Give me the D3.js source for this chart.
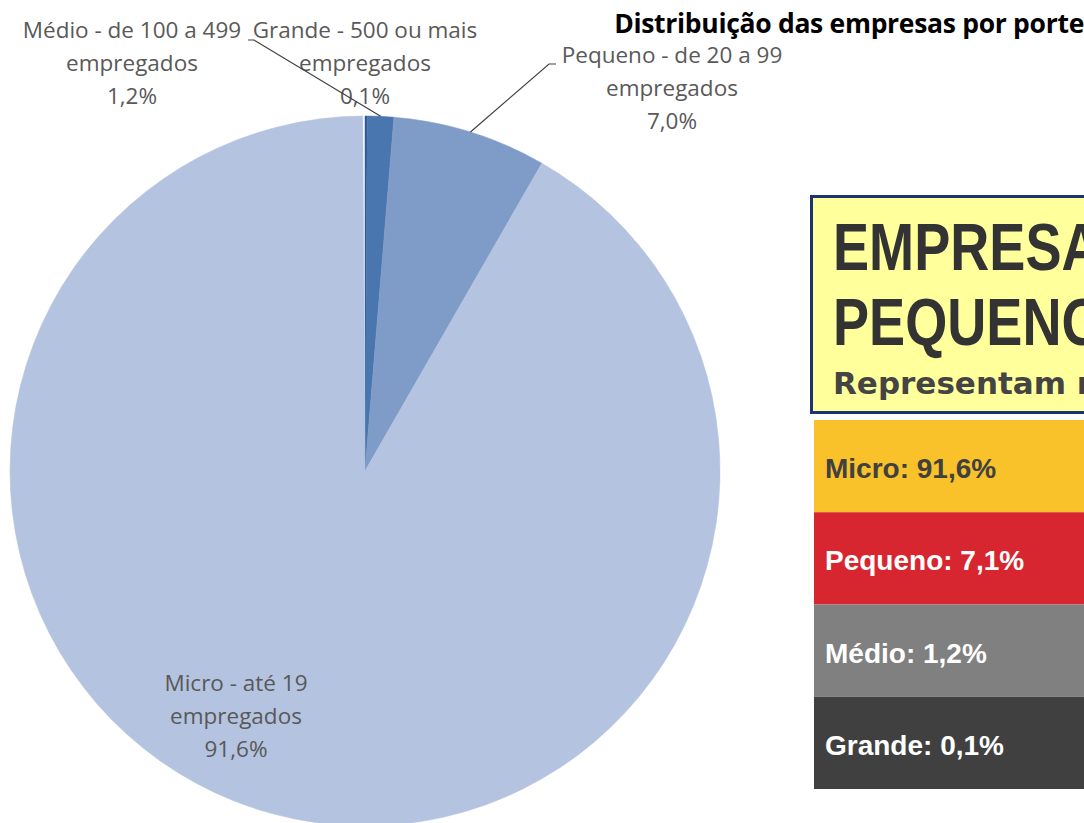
<!DOCTYPE html>
<html>
<head>
<meta charset="utf-8">
<script src="https://cdn.jsdelivr.net/npm/d3@7"></script>
<style>
  html, body { margin: 0; padding: 0; background: #ffffff; }
  svg { display: block; }
</style>
</head>
<body>
<svg id="chart" width="1084" height="823"></svg>
<script>
// ---------- data ----------
const title = "Distribuição das empresas por porte";
const sizes = ["Grande", "Médio", "Pequeno", "Micro"];
const sizeRanges = ["500 ou mais", "de 100 a 499", "de 20 a 99", "até 19"];
const shares = [0.1, 1.2, 7.0, 91.6];
const sliceColors = ["#2f5a94", "#4a76b0", "#7f9cc9", "#b4c3df"];

const panelHeading = ["EMPRESAS DE", "PEQUENO PORTE"];
const panelSub = "Representam mais de 98%";
const panelNames = ["Micro", "Pequeno", "Médio", "Grande"];
const panelValues = [91.6, 7.1, 1.2, 0.1];
const panelColors = ["#f9c12a", "#d7262f", "#808080", "#404040"];
const panelTextColors = ["#404040", "#ffffff", "#ffffff", "#ffffff"];

// ---------- setup ----------
const locale = d3.formatLocale({decimal: ",", thousands: ".", grouping: [3], currency: ["R$", ""]});
const fmt = locale.format(".1f");
const svg = d3.select("#chart");

// ---------- pie ----------
const cx = 365, cy = 471, R = 355;
const pie = d3.pie().sort(null).value(d => d.v)
  .startAngle(0).endAngle(2 * Math.PI * d3.sum(shares) / 100);
const data = sizes.map((s, i) => ({name: s, range: sizeRanges[i], v: shares[i], color: sliceColors[i]}));
const arcs = pie(data);
const arc = d3.arc().innerRadius(0).outerRadius(R);

const g = svg.append("g").attr("transform", `translate(${cx},${cy})`);
g.selectAll("path.slice").data(arcs).join("path")
  .attr("class", "slice")
  .attr("d", arc)
  .attr("fill", d => d.data.color)
  .attr("stroke", d => d.data.color)
  .attr("stroke-width", 0.5);

// point on outer edge at slice mid angle
function edgePoint(a) {
  const m = (a.startAngle + a.endAngle) / 2;
  return [cx + R * Math.sin(m), cy - R * Math.cos(m)];
}

// label layout (positions of text blocks)
const labelPos = {
  "Médio":   {x: 132, y: 38, leader: [[248, 40], [254, 40]]},
  "Grande":  {x: 365, y: 38},
  "Pequeno": {x: 672, y: 63, leader: [[556, 64], [549, 64]]},
  "Micro":   {x: 236, y: 691}
};
const lineH = 33;

arcs.forEach(a => {
  const p = labelPos[a.data.name];
  const lines = [`${a.data.name} - ${a.data.range}`, "empregados", fmt(a.data.v) + "%"];
  const t = svg.append("text")
    .attr("x", p.x).attr("y", p.y)
    .attr("text-anchor", "middle")
    .attr("font-family", "'Open Sans', 'Liberation Sans', sans-serif")
    .attr("font-size", 22.5)
    .attr("fill", "#595959");
  lines.forEach((l, i) => t.append("tspan").attr("x", p.x).attr("y", p.y + i * lineH).text(l));
  if (p.leader) {
    const pts = p.leader.concat([edgePoint(a)]);
    svg.append("path")
      .attr("d", d3.line()(pts))
      .attr("fill", "none")
      .attr("stroke", "#404040")
      .attr("stroke-width", 1.2);
  }
});

// title
svg.append("text")
  .attr("x", 1084).attr("y", 33)
  .attr("text-anchor", "end")
  .attr("font-family", "'Open Sans', 'Liberation Sans', sans-serif")
  .attr("font-weight", "bold")
  .attr("font-size", 26.5)
  .attr("letter-spacing", -0.3)
  .attr("fill", "#000000")
  .text(title);

// ---------- right panel ----------
svg.append("rect")
  .attr("x", 811.5).attr("y", 196.5).attr("width", 300).attr("height", 216)
  .attr("fill", "#ffff9c")
  .attr("stroke", "#1b3370").attr("stroke-width", 3);

panelHeading.forEach((h, i) => {
  svg.append("text")
    .attr("transform", `translate(833,${270 + i * 75}) scale(0.82,1)`)
    .attr("font-family", "'Liberation Sans', Arial, sans-serif")
    .attr("font-weight", "bold")
    .attr("font-size", 66)
    .attr("fill", "#333333")
    .text(h);
});
svg.append("text")
  .attr("x", 833).attr("y", 394)
  .attr("font-family", "'DejaVu Sans', sans-serif")
  .attr("font-weight", "bold")
  .attr("font-size", 31)
  .attr("fill", "#444444")
  .text(panelSub);

const band = d3.scaleBand().domain(panelNames).range([420, 789]).padding(0);
const bands = svg.selectAll("g.band").data(panelNames).join("g").attr("class", "band");
bands.append("rect")
  .attr("x", 814).attr("y", d => band(d))
  .attr("width", 270).attr("height", band.bandwidth())
  .attr("fill", (d, i) => panelColors[i]);
bands.append("text")
  .attr("x", 825).attr("y", d => band(d) + 58)
  .attr("font-family", "'Liberation Sans', Arial, sans-serif")
  .attr("font-weight", "bold")
  .attr("font-size", 28)
  .attr("fill", (d, i) => panelTextColors[i])
  .text((d, i) => `${d}: ${fmt(panelValues[i])}%`);
</script>
</body>
</html>
